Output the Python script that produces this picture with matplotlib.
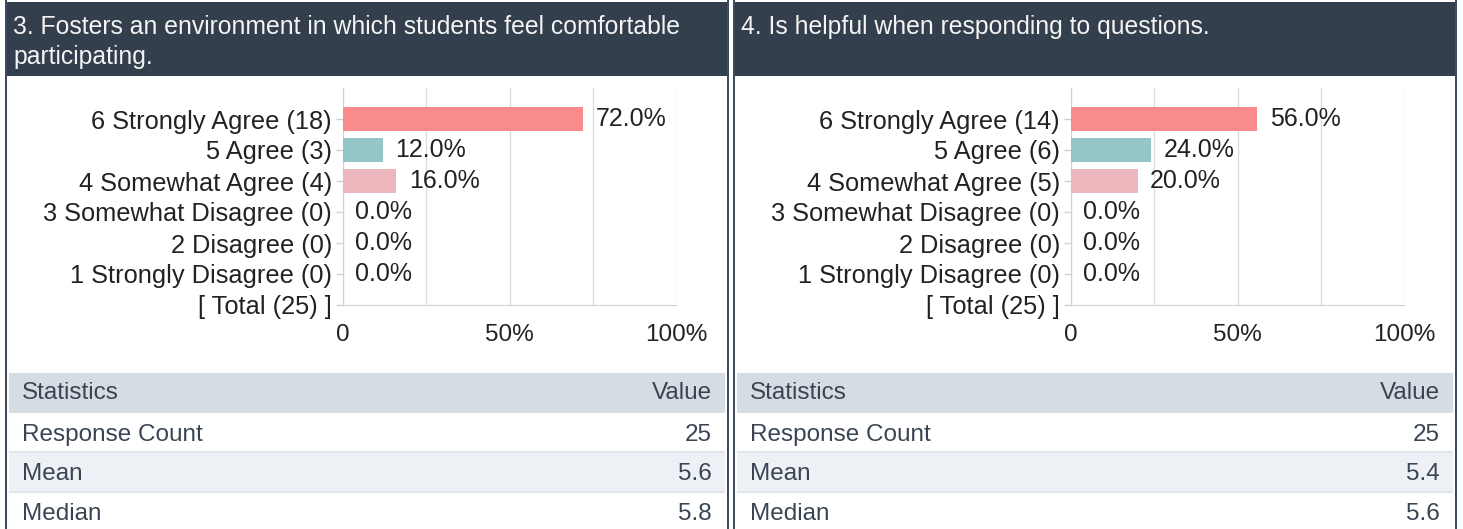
import matplotlib
matplotlib.use("Agg")
import matplotlib.pyplot as plt
from matplotlib.patches import Rectangle
import numpy as np

# datos de la encuesta
preguntas = ["3. Fosters an environment in which students feel comfortable\nparticipating.",
             "4. Is helpful when responding to questions."]
niveles = ["6 Strongly Agree", "5 Agree", "4 Somewhat Agree",
           "3 Somewhat Disagree", "2 Disagree", "1 Strongly Disagree"]
conteos_p3 = [18, 3, 4, 0, 0, 0]
conteos_p4 = [14, 6, 5, 0, 0, 0]
estadisticas = ["Response Count", "Mean", "Median"]
valores_p3 = ["25", "5.6", "5.8"]
valores_p4 = ["25", "5.4", "5.6"]
ticks_x = [0, 50, 100]
etiquetas_x = ["0", "50%", "100%"]

colores_barras = ["#fa8b8b", "#94c6c7", "#ecb8bd", "#cccccc", "#cccccc", "#cccccc"]
OSCURO = "#343f4e"
BORDE = "#3e4c60"
TEXTO = "#222222"
TEXTO_TABLA = "#3a4553"
FUENTE = "Liberation Sans"

W, H = 1463, 529
fig = plt.figure(figsize=(W / 100, H / 100), dpi=100)
fig.patch.set_facecolor("white")


def fx(x):
    return x / W


def fy(y):
    return 1 - y / H


def caja(x0, y0, x1, y1, color):
    fig.add_artist(Rectangle((fx(x0), fy(y1)), (x1 - x0) / W, (y1 - y0) / H,
                             transform=fig.transFigure, facecolor=color,
                             edgecolor="none", zorder=0))


def texto(x, y, s, **kw):
    fig.text(fx(x), fy(y), s, family=FUENTE, **kw)


def dibujarPanel(x0, pregunta, conteos, valores):
    total = sum(conteos)
    porcentajes = [100.0 * c / total for c in conteos]

    # encabezado oscuro y bordes
    caja(x0, 2, x0 + 724, 76, OSCURO)
    caja(x0, 0, x0 + 2, H, BORDE)
    caja(x0 + 722, 0, x0 + 724, H, BORDE)
    for i, linea in enumerate(pregunta.split("\n")):
        texto(x0 + 8, 34 + 30 * i, linea, color="#f4f4f4", fontsize=17.8,
              va="baseline", ha="left")

    # grafico de barras
    ax = fig.add_axes([fx(x0 + 338), fy(305), 333 / W, 217 / H])
    pos = np.arange(len(niveles))
    ax.barh(pos, porcentajes, height=0.77, color=colores_barras, zorder=3)
    for p, v in zip(pos, porcentajes):
        ax.annotate(f"{v:.1f}%", (v, p), xytext=(9, 0), textcoords="offset points",
                    va="center", ha="left", fontsize=18, color=TEXTO, family=FUENTE)

    etiquetas_y = [f"{n} ({c})" for n, c in zip(niveles, conteos)] + [f"[ Total ({total}) ]"]
    ax.set_yticks(np.arange(len(etiquetas_y)))
    ax.set_yticklabels(etiquetas_y, family=FUENTE, fontsize=18.3, color=TEXTO)
    ax.set_ylim(len(etiquetas_y) - 1, -1)
    ax.set_xlim(0, 100)
    ax.set_xticks(ticks_x)
    ax.set_xticklabels(etiquetas_x, family=FUENTE, fontsize=17.5, color=TEXTO)
    ax.set_xticks([25, 75], minor=True)
    ax.tick_params(axis="y", length=5, width=1, color="#d0d0d0", pad=3)
    ax.tick_params(axis="x", which="both", length=0, pad=13.5)
    ax.grid(axis="x", which="both", color="#dcdcdc", linewidth=1, zorder=0)
    for lado in ["top", "right"]:
        ax.spines[lado].set_visible(False)
    ax.spines["left"].set_color("#d0d0d0")
    ax.spines["bottom"].set_color("#d0d0d0")
    ax.set_facecolor("none")

    # tabla de estadisticas
    caja(x0 + 4, 373, x0 + 720, 413, "#d5dde2")
    caja(x0 + 4, 451, x0 + 720, 453, "#dfe5ea")
    caja(x0 + 4, 453, x0 + 720, 491, "#edf1f5")
    caja(x0 + 4, 491, x0 + 720, 493, "#dfe5ea")
    filas_y = [441, 480, 520]
    texto(x0 + 17, 399, "Statistics", color=TEXTO_TABLA, fontsize=17.5, va="baseline", ha="left")
    texto(x0 + 707, 399, "Value", color=TEXTO_TABLA, fontsize=17.5, va="baseline", ha="right")
    for nombre, valor, y in zip(estadisticas, valores, filas_y):
        texto(x0 + 17, y, nombre, color=TEXTO_TABLA, fontsize=17.5, va="baseline", ha="left")
        texto(x0 + 707, y, valor, color=TEXTO_TABLA, fontsize=17.5, va="baseline", ha="right")


dibujarPanel(5, preguntas[0], conteos_p3, valores_p3)
dibujarPanel(733, preguntas[1], conteos_p4, valores_p4)

fig.savefig("out.png", dpi=100)
